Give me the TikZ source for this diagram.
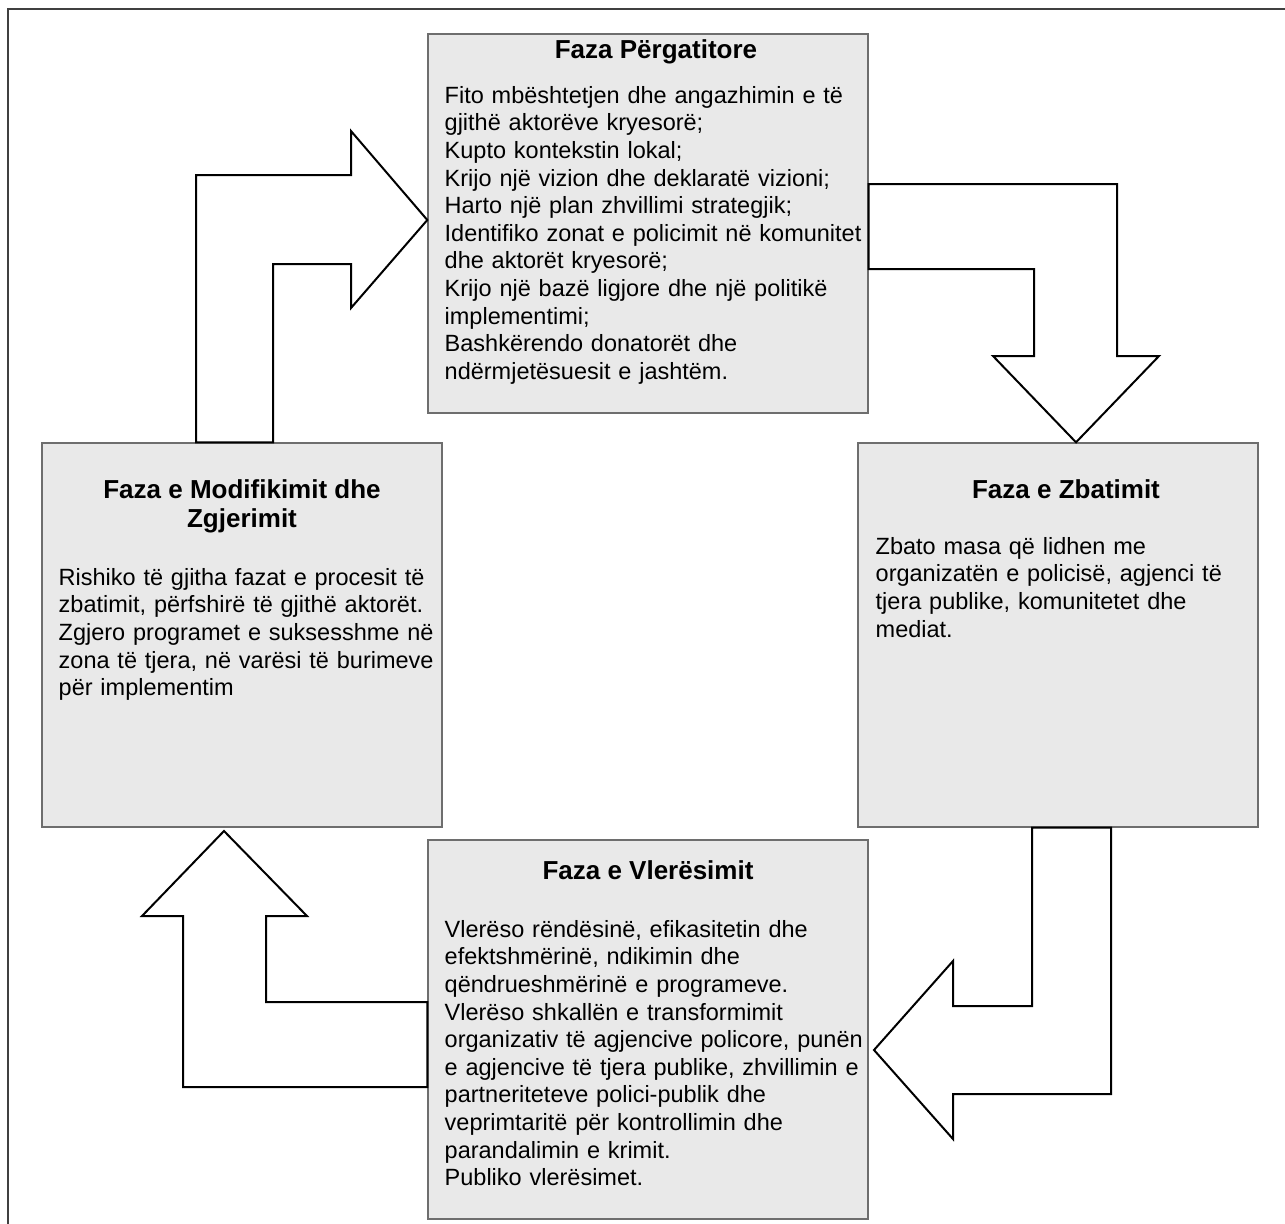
\documentclass[tikz,border=0pt]{standalone}
\usepackage{fontspec}
\setmainfont{Liberation Sans}[Ligatures=NoCommon]
\usepackage{tikz}
\usetikzlibrary{positioning}
\definecolor{boxfill}{HTML}{E9E9E9}
\definecolor{boxline}{HTML}{6E6E6E}
\definecolor{framegray}{HTML}{404040}
\tikzset{
  phasebox/.style={rectangle, draw=boxline, fill=boxfill, line width=0.7pt, inner sep=0pt},
  phasetitle/.style={anchor=base, inner sep=0pt, align=center, font=\fontsize{13pt}{14.7pt}\selectfont\bfseries},
  phasetext/.style={anchor=base west, inner sep=0pt, align=left, text width=215pt, font=\fontsize{11.75pt}{13.8pt}\selectfont},
  blockarrow/.style={draw=black, fill=white, line width=1pt, line join=miter},
}

\begin{document}
\begin{tikzpicture}[x=0.5pt, y=-0.5pt]
\useasboundingbox (0,0) rectangle (1285,1223);
\clip (0,0) rectangle (1285,1223);
\draw[framegray, line width=0.7pt] (8,9) rectangle (1300,1240);

%Boxes
\node[phasebox, minimum width=220pt, minimum height=189.5pt] (prep) at (648,223.5) {};
\node[phasebox, minimum width=200pt, minimum height=192pt] (zbatim) at (1058,635) {};
\node[phasebox, minimum width=220pt, minimum height=189.5pt] (vleresim) at (648,1029.5) {};
\node[phasebox, minimum width=200pt, minimum height=192pt] (modif) at (242,635) {};

%Titles
\node[phasetitle] (prepTitle) at ([xshift=4pt, yshift=-12.65pt]prep.north) {Faza Përgatitore};
\node[phasetitle] (zbatimTitle) at ([xshift=4pt, yshift=-28pt]zbatim.north) {Faza e Zbatimit};
\node[phasetitle] (vleresimTitle) at ([yshift=-20pt]vleresim.north) {Faza e Vlerësimit};
\node[phasetitle] (modifTitle) at ([yshift=-42.6pt]modif.north) {Faza e Modifikimit dhe\\Zgjerimit};

%Texts
\node[phasetext] (prepText) at ([xshift=8.5pt, yshift=-35pt]prep.north west) {Fito mbështetjen dhe angazhimin e të\\
gjithë aktorëve kryesorë;\\
Kupto kontekstin lokal;\\
Krijo një vizion dhe deklaratë vizioni;\\
Harto një plan zhvillimi strategjik;\\
Identifiko zonat e policimit në komunitet\\
dhe aktorët kryesorë;\\
Krijo një bazë ligjore dhe një politikë\\
implementimi;\\
Bashkërendo donatorët dhe\\
ndërmjetësuesit e jashtëm.};
\node[phasetext] (zbatimText) at ([xshift=9pt, yshift=-56pt]zbatim.north west) {Zbato masa që lidhen me\\
organizatën e policisë, agjenci të\\
tjera publike, komunitetet dhe\\
mediat.};
\node[phasetext] (vleresimText) at ([xshift=8.5pt, yshift=-49pt]vleresim.north west) {Vlerëso rëndësinë, efikasitetin dhe\\
efektshmërinë, ndikimin dhe\\
qëndrueshmërinë e programeve.\\
Vlerëso shkallën e transformimit\\
organizativ të agjencive policore, punën\\
e agjencive të tjera publike, zhvillimin e\\
partneriteteve polici-publik dhe\\
veprimtaritë për kontrollimin dhe\\
parandalimin e krimit.\\
Publiko vlerësimet.};
\node[phasetext] (modifText) at ([xshift=8.5pt, yshift=-71.5pt]modif.north west) {Rishiko të gjitha fazat e procesit të\\
zbatimit, përfshirë të gjithë aktorët.\\
Zgjero programet e suksesshme në\\
zona të tjera, në varësi të burimeve\\
për implementim};

%Arrows
\draw[blockarrow] (196,0 |- modif.north) -- (196,175) -- (351,175) -- (351,131) -- (prep.west |- 0,220)
  -- (351,308) -- (351,264) -- (273,264) -- (273,0 |- modif.north) -- cycle;
\draw[blockarrow] (prep.east |- 0,184) -- (1117,184) -- (1117,356) -- (1159,356) -- (1076,0 |- zbatim.north)
  -- (993,356) -- (1034,356) -- (1034,269) -- (prep.east |- 0,269) -- cycle;
\draw[blockarrow] (1032,0 |- zbatim.south) -- (1032,1006) -- (953,1006) -- (953,961) -- (874,1050)
  -- (953,1139) -- (953,1094) -- (1111,1094) -- (1111,0 |- zbatim.south) -- cycle;
\draw[blockarrow] (vleresim.west |- 0,1002) -- (266,1002) -- (266,916) -- (307,916) -- (224,831)
  -- (142,916) -- (183,916) -- (183,1087) -- (vleresim.west |- 0,1087) -- cycle;
\end{tikzpicture}
\end{document}
